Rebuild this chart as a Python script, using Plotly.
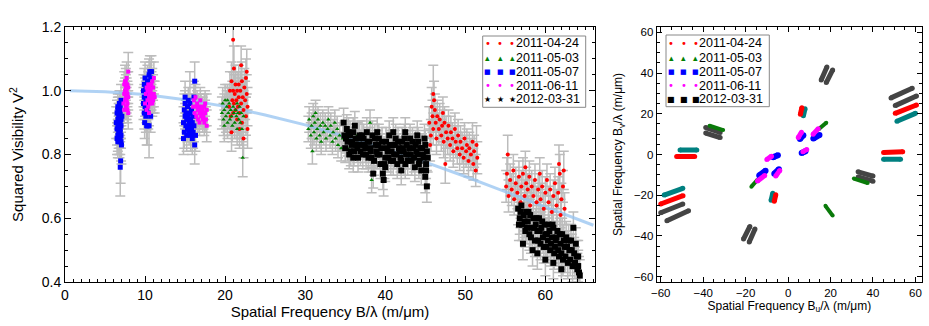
import plotly.graph_objects as go

# ---------------- Left panel: V^2 vs spatial frequency (B/lambda, V2, sigma) ----------------
V_0424_a = [(20.5,0.95,0.06),(20.6,1.00,0.06),(20.7,0.92,0.06),(20.8,1.03,0.06),(20.9,0.97,0.06),(21.0,0.93,0.06),
            (21.0,1.00,0.06),(21.1,1.07,0.07),(21.1,0.96,0.06),(21.2,0.99,0.06),(21.3,0.94,0.06),(21.3,1.02,0.06),
            (21.4,0.97,0.06),(21.5,0.91,0.06),(21.5,1.00,0.06),(21.6,0.95,0.06),(21.7,1.02,0.06),(21.7,0.98,0.06),
            (21.8,0.93,0.06),(21.9,1.00,0.06),(22.0,0.96,0.06),(22.1,0.90,0.06),(22.1,1.03,0.06),(22.2,0.98,0.06),
            (22.3,0.94,0.06),(22.4,1.01,0.06),(22.5,0.97,0.06),(22.6,0.92,0.06),(22.6,1.04,0.06),(22.7,0.99,0.06),
            (22.8,0.95,0.06),(22.8,0.88,0.06),(21.0,1.16,0.10),(20.8,0.87,0.06),(22.3,0.85,0.06),(21.8,0.88,0.06),
            (22.7,1.06,0.07),(22.0,1.08,0.06)]
V_0424_b = [(45.5,0.90,0.05),(45.7,0.86,0.05),(45.8,0.95,0.06),(45.9,0.92,0.05),(46.0,0.99,0.09),(46.0,0.88,0.05),
            (46.2,0.94,0.05),(46.3,0.90,0.05),(46.4,0.85,0.05),(46.5,0.92,0.05),(46.7,0.88,0.05),(46.8,0.91,0.05),
            (47.0,0.86,0.05),(47.1,0.89,0.05),(47.3,0.84,0.05),(47.4,0.90,0.05),(47.5,0.77,0.06),(47.6,0.87,0.05),
            (47.8,0.85,0.05),(47.9,0.89,0.05),(48.1,0.83,0.05),(48.2,0.87,0.05),(48.4,0.85,0.05),(48.5,0.81,0.05),
            (48.7,0.88,0.05),(48.8,0.84,0.05),(49.0,0.82,0.05),(49.1,0.86,0.05),(49.3,0.80,0.05),(49.4,0.84,0.05),
            (49.6,0.82,0.05),(49.8,0.79,0.05),(49.9,0.85,0.05),(50.1,0.81,0.05),(50.2,0.83,0.05),(50.4,0.78,0.05),
            (50.5,0.82,0.05),(50.7,0.80,0.05),(50.9,0.84,0.06),(51.0,0.77,0.05),(51.1,0.81,0.05),(51.3,0.75,0.05),
            (51.4,0.83,0.06),(51.5,0.79,0.05),(46.1,0.97,0.06),(47.2,0.93,0.05),(45.6,0.83,0.05)]
V_0424_c = [(55.1,0.70,0.05),(55.2,0.74,0.05),(55.3,0.80,0.06),(55.4,0.67,0.05),(55.6,0.72,0.05),(55.8,0.69,0.05),
            (56.0,0.75,0.05),(56.1,0.66,0.05),(56.3,0.71,0.05),(56.5,0.68,0.05),(56.7,0.73,0.05),(56.9,0.65,0.05),
            (57.0,0.70,0.05),(57.2,0.74,0.05),(57.4,0.67,0.05),(57.6,0.71,0.05),(57.8,0.69,0.05),(58.0,0.73,0.05),
            (58.1,0.64,0.05),(58.3,0.70,0.05),(58.5,0.67,0.05),(58.7,0.72,0.05),(58.9,0.65,0.05),(59.1,0.69,0.05),
            (59.3,0.74,0.05),(59.4,0.66,0.05),(59.6,0.70,0.05),(59.8,0.63,0.05),(60.0,0.68,0.05),(60.2,0.72,0.05),
            (60.4,0.65,0.05),(60.6,0.69,0.05),(60.8,0.62,0.05),(61.0,0.67,0.05),(61.2,0.71,0.05),(61.4,0.64,0.05),
            (61.6,0.68,0.05),(61.8,0.74,0.06),(61.9,0.61,0.05),(62.0,0.66,0.05),(62.2,0.70,0.05),(62.3,0.75,0.06),
            (62.4,0.63,0.05),(61.7,0.77,0.06),(57.5,0.76,0.05)]

V_0503_a = [(19.6,0.93,0.05),(19.7,0.96,0.05),(19.8,0.91,0.05),(19.9,0.94,0.05),(20.0,0.97,0.05),(20.1,0.92,0.05),
            (20.2,0.95,0.05),(20.3,0.90,0.05),(20.4,0.93,0.05),(20.5,0.96,0.05),(20.6,0.91,0.05),(20.7,0.94,0.05),
            (20.8,0.92,0.05),(20.9,0.89,0.05),(21.0,0.95,0.05),(21.1,0.93,0.05),(21.2,0.90,0.05),(21.3,0.94,0.05),
            (21.4,0.92,0.05),(21.5,0.88,0.05),(21.6,0.93,0.05),(21.7,0.91,0.05),(21.8,0.95,0.05),(21.9,0.90,0.05),
            (22.0,0.93,0.05),(22.1,0.88,0.05),(22.2,0.79,0.06),(22.3,0.92,0.05),(20.3,0.97,0.05),(19.9,0.89,0.05),
            (21.5,0.96,0.05)]
V_0503_b = [(30.4,0.88,0.04),(30.5,0.91,0.04),(30.7,0.86,0.04),(30.8,0.89,0.04),(31.0,0.92,0.04),(31.1,0.87,0.04),
            (31.2,0.90,0.04),(31.4,0.85,0.04),(31.5,0.88,0.04),(31.6,0.91,0.04),(31.8,0.86,0.04),(31.9,0.89,0.04),
            (32.0,0.84,0.04),(32.2,0.90,0.04),(32.3,0.87,0.04),(32.5,0.89,0.04),(32.6,0.85,0.04),(32.8,0.88,0.04),
            (32.9,0.91,0.04),(33.1,0.86,0.04),(33.2,0.89,0.04),(33.4,0.84,0.04),(33.5,0.87,0.04),(33.7,0.90,0.04),
            (33.8,0.85,0.04),(34.0,0.88,0.04),(34.1,0.83,0.04),(34.3,0.86,0.04),(34.5,0.82,0.04),(34.7,0.85,0.04),
            (30.9,0.81,0.04),(31.3,0.93,0.04),(36.5,0.86,0.04),(38.1,0.90,0.04),(38.3,0.72,0.04),(35.3,0.82,0.04)]

V_0507_a = [(6.4,0.90,0.05),(6.5,0.93,0.04),(6.5,0.88,0.05),(6.6,0.95,0.04),(6.6,0.91,0.04),(6.6,0.86,0.05),
            (6.7,0.94,0.04),(6.7,0.89,0.04),(6.7,0.85,0.05),(6.8,0.96,0.04),(6.8,0.92,0.04),(6.8,0.87,0.04),
            (6.8,0.84,0.05),(6.9,0.93,0.04),(6.9,0.90,0.04),(6.9,0.88,0.04),(6.9,0.85,0.05),(7.0,0.97,0.05),
            (7.0,0.91,0.04),(7.0,0.86,0.04),(7.0,0.84,0.06),(6.5,0.85,0.05),(6.6,0.89,0.04),(6.7,0.92,0.04),
            (6.8,0.90,0.04),(6.9,0.95,0.04),(7.0,0.89,0.04),(7.05,0.83,0.06),(6.95,0.78,0.07),(6.9,0.76,0.09),
            (6.6,0.94,0.04),(6.7,0.87,0.05),(6.8,0.94,0.04),(6.6,0.84,0.05),(6.9,0.87,0.05),(7.1,0.92,0.04)]
V_0507_b = [(9.8,0.96,0.05),(9.8,1.00,0.05),(9.9,0.93,0.05),(9.9,0.98,0.04),(9.9,1.02,0.05),(10.0,0.95,0.04),
            (10.0,1.00,0.04),(10.0,1.04,0.05),(10.1,0.92,0.05),(10.1,0.97,0.04),(10.1,1.01,0.04),(10.2,0.94,0.04),
            (10.2,0.99,0.04),(10.3,0.96,0.04),(10.3,1.03,0.05),(10.4,0.93,0.05),(10.4,0.98,0.04),(10.5,1.05,0.05),
            (10.6,1.02,0.05),(10.6,1.06,0.05),(10.7,1.04,0.05),(10.2,0.89,0.06),(10.3,0.89,0.06),(10.5,0.89,0.10),
            (10.7,0.92,0.05),(10.8,1.06,0.05),(9.95,0.90,0.05)]
V_0507_c = [(14.8,0.90,0.05),(14.9,0.94,0.05),(14.9,0.87,0.05),(15.0,0.92,0.04),(15.0,0.96,0.04),(15.1,0.89,0.04),
            (15.1,0.93,0.04),(15.2,0.86,0.05),(15.2,0.91,0.04),(15.3,0.95,0.04),(15.3,0.88,0.04),(15.4,0.92,0.04),
            (15.4,0.97,0.04),(15.5,0.90,0.04),(15.5,0.87,0.04),(15.6,0.93,0.04),(15.6,0.89,0.04),(15.7,0.86,0.05),
            (15.7,0.91,0.04),(15.8,0.94,0.04),(15.8,0.88,0.04),(15.9,0.90,0.04),(15.9,0.85,0.05),(16.0,0.92,0.04),
            (16.0,0.87,0.05),(16.1,0.89,0.05),(16.1,0.98,0.05),(16.2,1.03,0.06),(16.2,0.83,0.06),(15.0,0.98,0.05),
            (14.8,0.85,0.05),(15.6,0.96,0.10),(16.3,0.86,0.05)]

V_0611_a = [(7.3,0.96,0.04),(7.4,0.99,0.04),(7.4,1.02,0.04),(7.5,0.97,0.04),(7.5,1.00,0.04),(7.5,1.03,0.05),
            (7.6,0.95,0.04),(7.6,0.98,0.04),(7.6,1.01,0.04),(7.7,0.97,0.04),(7.7,1.00,0.04),(7.7,1.04,0.05),
            (7.8,0.96,0.04),(7.8,0.99,0.04),(7.8,1.02,0.04),(7.9,0.98,0.04),(7.9,1.01,0.05),(7.9,1.06,0.06),
            (7.4,0.94,0.04),(7.6,1.03,0.04),(7.8,0.94,0.04),(7.5,0.99,0.04),(7.7,0.95,0.04),(7.9,0.93,0.05)]
V_0611_b = [(10.0,0.96,0.04),(10.1,0.99,0.04),(10.2,1.01,0.04),(10.3,0.97,0.04),(10.3,1.00,0.04),(10.4,0.95,0.04),
            (10.4,1.02,0.04),(10.5,0.98,0.04),(10.5,1.01,0.04),(10.6,0.96,0.04),(10.6,0.99,0.04),(10.7,1.00,0.04),
            (10.7,0.97,0.04),(10.8,0.98,0.04),(10.8,1.02,0.04),(10.9,0.99,0.04),(10.9,0.96,0.04),(11.0,1.01,0.04),
            (11.0,0.97,0.04),(11.1,1.04,0.05),(11.1,0.99,0.04),(10.2,0.94,0.04),(10.5,0.93,0.04),(10.9,1.03,0.04),
            (11.2,0.98,0.05)]
V_0611_c = [(16.0,0.95,0.04),(16.1,0.97,0.04),(16.2,0.93,0.04),(16.3,0.95,0.04),(16.4,0.92,0.04),(16.5,0.96,0.04),
            (16.6,0.94,0.04),(16.6,0.91,0.04),(16.7,0.95,0.04),(16.8,0.93,0.04),(16.8,0.90,0.04),(16.9,0.94,0.04),
            (17.0,0.92,0.04),(17.0,0.95,0.04),(17.1,0.93,0.04),(17.2,0.91,0.04),(17.2,0.94,0.04),(17.3,0.92,0.04),
            (17.4,0.95,0.04),(17.4,0.90,0.04),(17.5,0.93,0.04),(17.6,0.91,0.04),(17.7,0.94,0.05),(17.7,0.89,0.05),
            (16.3,0.98,0.04),(16.9,0.97,0.04),(17.5,0.96,0.04)]

V_1203_a = [(34.9,0.86,0.045),(35.0,0.82,0.045),(35.2,0.88,0.045),(35.3,0.84,0.045),(35.5,0.80,0.045),(35.6,0.86,0.045),
            (35.8,0.83,0.045),(36.0,0.87,0.045),(36.1,0.81,0.045),(36.3,0.85,0.045),(36.5,0.82,0.045),(36.6,0.79,0.045),
            (36.8,0.86,0.045),(37.0,0.83,0.045),(37.2,0.80,0.045),(37.3,0.85,0.045),(37.5,0.82,0.045),(37.7,0.87,0.045),
            (37.9,0.79,0.045),(38.0,0.84,0.045),(38.2,0.81,0.045),(38.4,0.86,0.045),(38.6,0.78,0.045),(38.8,0.83,0.045),
            (39.0,0.80,0.045),(39.2,0.85,0.045),(39.4,0.77,0.045),(39.5,0.82,0.045),(39.7,0.74,0.05),(39.8,0.72,0.05),
            (40.0,0.79,0.045),(40.1,0.84,0.045),(40.3,0.81,0.045),(40.5,0.86,0.045),(40.7,0.78,0.045),(40.9,0.83,0.045),
            (41.1,0.80,0.045),(41.3,0.85,0.045),(41.5,0.77,0.045),(41.7,0.82,0.045),(41.9,0.79,0.045),(42.1,0.84,0.045),
            (42.3,0.81,0.045),(42.5,0.77,0.045),(42.7,0.83,0.045),(42.9,0.80,0.045),(43.1,0.85,0.045),(43.3,0.78,0.045),
            (43.5,0.82,0.045),(43.7,0.76,0.045),(43.9,0.81,0.045),(44.1,0.84,0.045),(44.3,0.78,0.045),(44.5,0.75,0.045),
            (44.6,0.82,0.045),(44.8,0.79,0.045),(44.9,0.85,0.045),(45.0,0.73,0.05),(45.1,0.77,0.045),(45.2,0.81,0.045),
            (45.2,0.70,0.05),(34.8,0.90,0.045),(36.2,0.89,0.045),(38.5,0.74,0.045),(41.0,0.87,0.045),(42.0,0.75,0.045),
            (35.1,0.85,0.045),(35.4,0.87,0.045),(35.7,0.81,0.045),(35.9,0.84,0.045),(36.4,0.83,0.045),(36.7,0.85,0.045),
            (36.9,0.81,0.045),(37.1,0.86,0.045),(37.4,0.83,0.045),(37.6,0.80,0.045),(37.8,0.84,0.045),(38.1,0.82,0.045),
            (38.3,0.79,0.045),(38.7,0.85,0.045),(38.9,0.81,0.045),(39.1,0.83,0.045),(39.3,0.80,0.045),(39.6,0.84,0.045),
            (39.9,0.77,0.045),(40.2,0.82,0.045),(40.4,0.79,0.045),(40.6,0.83,0.045),(40.8,0.81,0.045),(41.0,0.78,0.045),
            (41.2,0.83,0.045),(41.4,0.80,0.045),(41.6,0.84,0.045),(41.8,0.81,0.045),(42.0,0.78,0.045),(42.2,0.82,0.045),
            (42.4,0.85,0.045),(42.6,0.80,0.045),(42.8,0.78,0.045),(43.0,0.82,0.045),(43.2,0.80,0.045),(43.4,0.84,0.045),
            (43.6,0.79,0.045),(43.8,0.83,0.045),(44.0,0.80,0.045),(44.2,0.77,0.045),(44.4,0.82,0.045),(44.7,0.80,0.045),
            (45.0,0.83,0.045),(45.1,0.75,0.045),(45.3,0.79,0.045),(39.0,0.87,0.045),(40.0,0.76,0.045),(36.0,0.79,0.045),
            (44.0,0.86,0.045),(42.5,0.87,0.045)]
V_1203_b = [(56.6,0.63,0.05),(56.8,0.60,0.05),(57.0,0.64,0.05),(57.1,0.58,0.05),(57.3,0.61,0.05),(57.5,0.56,0.05),
            (57.6,0.62,0.05),(57.8,0.59,0.05),(58.0,0.55,0.05),(58.1,0.61,0.05),(58.3,0.57,0.05),(58.5,0.60,0.05),
            (58.7,0.53,0.05),(58.8,0.58,0.05),(59.0,0.56,0.05),(59.2,0.60,0.05),(59.4,0.52,0.05),(59.5,0.57,0.05),
            (59.7,0.54,0.05),(59.9,0.58,0.05),(60.1,0.51,0.05),(60.2,0.55,0.05),(60.4,0.58,0.05),(60.6,0.50,0.05),
            (60.8,0.54,0.05),(61.0,0.57,0.05),(61.1,0.49,0.05),(61.3,0.53,0.05),(61.5,0.56,0.05),(61.7,0.48,0.05),
            (61.9,0.52,0.05),(62.1,0.55,0.05),(62.2,0.47,0.05),(62.4,0.51,0.05),(62.6,0.54,0.05),(62.8,0.46,0.05),
            (63.0,0.50,0.05),(63.2,0.53,0.05),(63.4,0.45,0.05),(63.6,0.49,0.05),(63.8,0.52,0.05),(64.0,0.44,0.05),
            (64.1,0.48,0.05),(64.2,0.43,0.05),(57.2,0.52,0.05),(58.4,0.50,0.05),(62.0,0.44,0.05),(63.5,0.57,0.05),
            (56.7,0.58,0.05),(56.9,0.62,0.05),(57.4,0.59,0.05),(57.7,0.57,0.05),(57.9,0.62,0.05),(58.2,0.54,0.05),
            (58.6,0.57,0.05),(58.9,0.60,0.05),(59.1,0.53,0.05),(59.3,0.56,0.05),(59.6,0.59,0.05),(59.8,0.51,0.05),
            (60.0,0.55,0.05),(60.3,0.53,0.05),(60.5,0.56,0.05),(60.7,0.52,0.05),(60.9,0.58,0.05),(61.2,0.51,0.05),
            (61.4,0.54,0.05),(61.6,0.50,0.05),(61.8,0.55,0.05),(62.0,0.49,0.05),(62.3,0.53,0.05),(62.5,0.48,0.05),
            (62.7,0.51,0.05),(62.9,0.53,0.05),(63.1,0.47,0.05),(63.3,0.50,0.05),(63.7,0.46,0.05),(63.9,0.48,0.05),
            (64.1,0.45,0.05),(64.3,0.42,0.05),(60.0,0.47,0.05),(61.0,0.46,0.05),(59.0,0.49,0.05)]

# model curve
model_x = [0.6, 5, 10, 15, 20, 25, 30, 35, 40, 45, 50, 55, 60, 66]
model_v2 = [1.0, 0.997, 0.988, 0.972, 0.951, 0.924, 0.893, 0.857, 0.818, 0.776, 0.731, 0.684, 0.636, 0.578]

# ---------------- Right panel: uv coverage segments ((u1,v1),(u2,v2)) ----------------
uv_0424 = [((50.5,20.2),(60.5,24.3)), ((-60.0,-24.3),(-49.5,-20.2)), ((45.0,1.0),(54.0,1.3)),
           ((-52.5,-1.0),(-44.0,-1.0)), ((5.8,19.8),(6.5,23.0)), ((-5.8,-19.8),(-6.5,-23.0))]
uv_teal = [((51.3,16.3),(60.0,20.2)), ((-58.4,-19.9),(-49.6,-16.6)), ((45.0,-2.3),(53.0,-2.3)),
           ((-50.9,2.2),(-43.0,2.2)), ((7.2,19.0),(8.0,22.5)), ((-7.2,-19.0),(-8.0,-22.5))]
uv_0503 = [((14.5,12.5),(18.0,15.6)), ((-14.5,-12.5),(-17.3,-15.8)), ((-37.0,14.1),(-30.6,12.0)),
           ((31.0,-11.8),(37.5,-14.0)), ((17.6,-25.2),(21.0,-30.0))]
uv_0507 = [((5.6,7.6),(7.2,9.5)), ((11.9,7.8),(14.8,9.6)), ((6.4,0.7),(8.2,1.6)),
           ((-4.3,-7.2),(-6.5,-9.4)), ((-10.6,-8.0),(-13.6,-10.3)), ((-4.8,-0.4),(-7.0,-1.3))]
uv_0611 = [((4.8,8.3),(6.3,10.9)), ((11.8,10.0),(14.2,12.6)), ((7.0,1.4),(8.8,2.4)),
           ((-3.9,-7.8),(-5.8,-10.6)), ((-11.0,-10.3),(-14.4,-13.0)), ((-7.8,-0.8),(-10.0,-2.5))]
uv_1203 = [((48.5,27.8),(58.5,32.5)), ((50.5,24.0),(60.5,28.7)), ((-60.0,-28.6),(-49.6,-24.3)),
           ((-57.1,-32.5),(-46.9,-27.6)), ((15.6,36.6),(18.3,43.0)), ((18.0,35.3),(21.0,41.5)),
           ((-15.6,-36.6),(-18.3,-43.0)), ((-18.0,-35.3),(-21.0,-41.5)), ((-38.8,13.2),(-32.0,10.8)),
           ((-38.8,10.5),(-32.0,8.3)), ((33.0,-8.5),(40.0,-10.6)), ((33.0,-11.0),(40.0,-13.1))]

dates = ["2011-04-24", "2011-05-03", "2011-05-07", "2011-06-11", "2012-03-31"]
colors = ["#ff0000", "#008000", "#0000ff", "#ff00ff", "#000000"]
symbols = ["circle", "triangle-up", "square", "square", "square"]
sizes = [4, 4, 5, 4, 6]
v2_sets = [[V_0424_a, V_0424_b, V_0424_c], [V_0503_a, V_0503_b], [V_0507_a, V_0507_b, V_0507_c],
           [V_0611_a, V_0611_b, V_0611_c], [V_1203_a, V_1203_b]]

FONT = "Liberation Sans, Arial, Helvetica, sans-serif"
fig = go.Figure()

# gray error bars first (behind everything)
for groups in v2_sets:
    for g in groups:
        fig.add_trace(go.Scatter(
            x=[p[0] for p in g], y=[p[1] for p in g], mode="markers",
            marker=dict(size=1, color="rgba(0,0,0,0)"),
            error_y=dict(type="data", array=[p[2] for p in g], color="#bcbcbc", thickness=1.5, width=5),
            showlegend=False, hoverinfo="skip", xaxis="x", yaxis="y"))

fig.add_trace(go.Scatter(x=model_x, y=model_v2, mode="lines", line=dict(color="rgba(150,195,240,0.75)", width=3),
                         showlegend=False, hoverinfo="skip", xaxis="x", yaxis="y"))

for name, col, sym, sz, groups in zip(dates, colors, symbols, sizes, v2_sets):
    xs, ys = [], []
    for g in groups:
        xs += [p[0] for p in g]
        ys += [p[1] for p in g]
    fig.add_trace(go.Scatter(x=xs, y=ys, mode="markers", name=name,
                             marker=dict(symbol=sym, size=sz, color=col, line=dict(width=0)),
                             showlegend=False, xaxis="x", yaxis="y"))

# uv plane
def seg_xy(segs):
    xs, ys = [], []
    for (a, b) in segs:
        xs += [a[0], b[0], None]
        ys += [a[1], b[1], None]
    return xs, ys

uv_layers = [(uv_1203, "#444444", 5), (uv_teal, "#008080", 5), (uv_0424, "#ff0000", 5),
             (uv_0503, "#0a7a0a", 4), (uv_0507, "#0000ff", 6), (uv_0611, "#ff00ff", 5)]
for segs, col, w in uv_layers:
    xs, ys = seg_xy(segs)
    fig.add_trace(go.Scatter(x=xs, y=ys, mode="lines+markers", line=dict(color=col, width=w),
                             marker=dict(size=w, color=col), showlegend=False, xaxis="x2", yaxis="y2"))

# ---------------- layout ----------------
W, H = 929, 326
ML, MR, MT, MB = 65, 7, 27, 44
PW, PH = W - ML - MR, H - MT - MB

def px_x(px):
    return (px - ML) / PW

def px_y(py):
    return (H - MB - py) / PH

axis_common = dict(showline=True, linecolor="black", linewidth=1, mirror="allticks", ticks="inside",
                   tickcolor="black", showgrid=False, zeroline=False)

fig.update_layout(
    width=W, height=H, margin=dict(l=ML, r=MR, t=MT, b=MB),
    plot_bgcolor="white", paper_bgcolor="white", showlegend=False,
    font=dict(family=FONT, color="black"),
    xaxis=dict(domain=[0, px_x(595)], range=[0, 66.2], dtick=10, ticklen=6,
               minor=dict(ticks="inside", dtick=1, ticklen=3, tickcolor="black"),
               tickfont=dict(size=14), title=dict(text="Spatial Frequency B/λ (m/μm)", font=dict(size=15), standoff=4),
               **axis_common),
    yaxis=dict(domain=[0, 1], range=[0.4, 1.2], dtick=0.2, tickformat=".1f", ticklen=6,
               minor=dict(ticks="inside", dtick=0.05, ticklen=3, tickcolor="black"),
               tickfont=dict(size=14), title=dict(text="Squared Visibility V<sup>2</sup>", font=dict(size=15), standoff=14),
               **axis_common),
    xaxis2=dict(domain=[px_x(656.7), 1], range=[-61.9, 63.1], dtick=20, ticklen=5, anchor="y2",
                minor=dict(ticks="inside", dtick=5, ticklen=3, tickcolor="black"),
                tickfont=dict(size=11.5), title=dict(text="Spatial Frequency B<sub>u</sub>/λ (m/μm)", font=dict(size=12), standoff=2),
                **axis_common),
    yaxis2=dict(domain=[0, 1], range=[-62.6, 62.6], dtick=20, ticklen=5, anchor="x2",
                minor=dict(ticks="inside", dtick=5, ticklen=3, tickcolor="black"),
                tickfont=dict(size=11.5), title=dict(text="Spatial Frequency B<sub>v</sub>/λ (m/μm)", font=dict(size=12), standoff=8),
                **axis_common),
)

# legends drawn as boxed text entries (glyph + date)
legend_glyphs_left = ["•", "▴", "■", "•", "★"]
legend_glyphs_right = ["•", "▴", "■", "•", "■"]
glyph_sizes = [10, 9, 7, 10, 8]
rows_py = [43.3, 58.3, 72.0, 85.8, 99.3]

def add_legend(box, glyph_px, text_px, glyphs):
    x0, y0, x1, y1 = box
    fig.add_shape(type="rect", xref="paper", yref="paper", x0=px_x(x0), x1=px_x(x1), y0=px_y(y0), y1=px_y(y1),
                  line=dict(color="#888888", width=1), fillcolor="white", layer="above")
    for name, col, gl, gs, py in zip(dates, colors, glyphs, glyph_sizes, rows_py):
        for gx in glyph_px:
            fig.add_annotation(xref="paper", yref="paper", x=px_x(gx), y=px_y(py), text=gl, showarrow=False,
                               font=dict(size=gs, color=col, family="DejaVu Sans"), xanchor="center", yanchor="middle")
        fig.add_annotation(xref="paper", yref="paper", x=px_x(text_px), y=px_y(py), text=name, showarrow=False,
                           font=dict(size=12.5, color="black", family=FONT), xanchor="left", yanchor="middle")

add_legend((482.7, 36, 585.7, 107.3), [487.5, 500, 512], 514, legend_glyphs_left)
add_legend((666, 35, 769.3, 106.7), [671, 683.5, 695.5], 697, legend_glyphs_right)

fig.write_html("out.html", config={"displayModeBar": False},
               post_script="document.body.style.margin='0';")
